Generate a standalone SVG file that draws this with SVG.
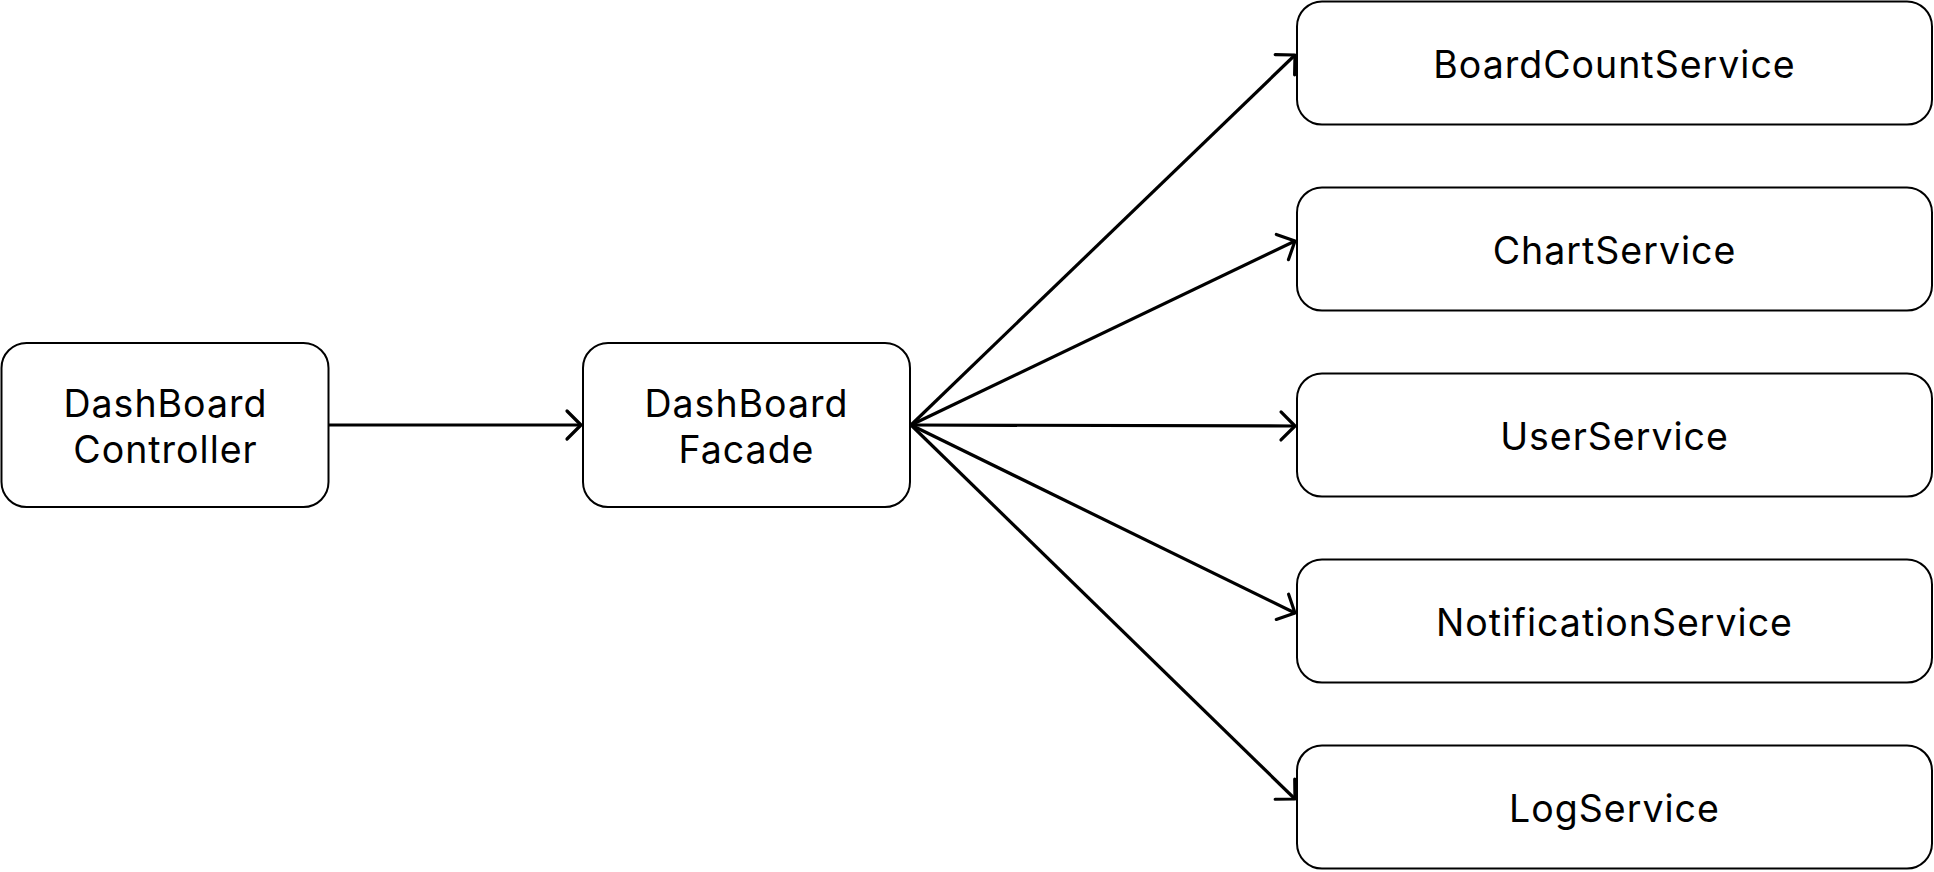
<svg xmlns="http://www.w3.org/2000/svg" width="1934" height="872" viewBox="0 0 1934 872">
<style>
.box{fill:#fff;stroke:#000;stroke-width:2}
.lbl{font-family:Inter,"Liberation Sans",sans-serif;font-size:37.5px;letter-spacing:1px;fill:#000;text-anchor:middle}
.edge{fill:none;stroke:#000;stroke-width:3.2;marker-end:url(#arr)}
</style>
<defs>
<marker id="arr" markerUnits="userSpaceOnUse" markerWidth="40" markerHeight="40" viewBox="-20 -20 40 40" refX="0" refY="0" orient="auto" overflow="visible">
<path d="M-14,-14 L0,0 L-14,14" fill="none" stroke="#000" stroke-width="3.2" stroke-linecap="round" stroke-linejoin="round"/>
</marker>
</defs>
<rect width="1934" height="872" fill="#fff"/>
<g id="connectors">
<path class="edge" d="M328,425 L581,425"/>
<path class="edge" d="M911,425 L1295,55"/>
<path class="edge" d="M911,425 L1295,241"/>
<path class="edge" d="M911,425 L1295,426"/>
<path class="edge" d="M911,425 L1295,613"/>
<path class="edge" d="M911,425 L1295,799"/>
</g>
<g id="controller">
<rect class="box" x="1.5" y="343" width="327" height="164" rx="25"/>
<text class="lbl" x="165.5" y="417">DashBoard</text>
<text class="lbl" x="165.5" y="463">Controller</text>
</g>
<g id="facade">
<rect class="box" x="583" y="343" width="327" height="164" rx="25"/>
<text class="lbl" x="746.5" y="417">DashBoard</text>
<text class="lbl" x="746.5" y="463">Facade</text>
</g>
<g id="boardcount">
<rect class="box" x="1297" y="1.5" width="635" height="123" rx="25"/>
<text class="lbl" x="1614.5" y="78">BoardCountService</text>
</g>
<g id="chart">
<rect class="box" x="1297" y="187.5" width="635" height="123" rx="25"/>
<text class="lbl" x="1614.5" y="264">ChartService</text>
</g>
<g id="user">
<rect class="box" x="1297" y="373.5" width="635" height="123" rx="25"/>
<text class="lbl" x="1614.5" y="450">UserService</text>
</g>
<g id="notification">
<rect class="box" x="1297" y="559.5" width="635" height="123" rx="25"/>
<text class="lbl" x="1614.5" y="636">NotificationService</text>
</g>
<g id="log">
<rect class="box" x="1297" y="745.5" width="635" height="123" rx="25"/>
<text class="lbl" x="1614.5" y="822">LogService</text>
</g>
</svg>
